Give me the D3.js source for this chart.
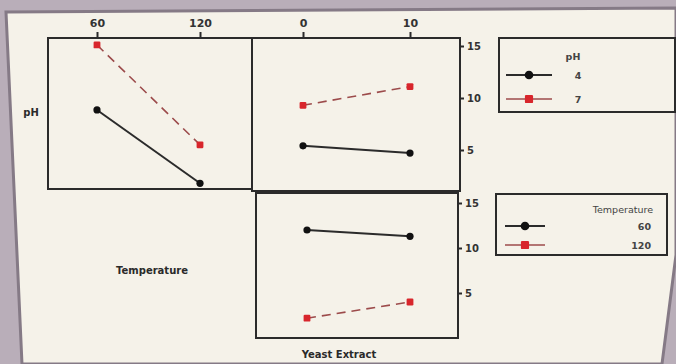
<!DOCTYPE html>
<html>
<head>
<meta charset="utf-8">
<script src="https://cdn.jsdelivr.net/npm/d3@7"></script>
<style>
  body { margin: 0; background: #b9aeb9; }
  svg { display: block; }
  .tick text { font-family: "DejaVu Sans", sans-serif; font-weight: bold; fill: #333; }
</style>
</head>
<body>
<div id="myPlot"></div>
<script>
// interaction plot data
const tempLevels = [60, 120];
const yeastLevels = [0, 10];
const phLevels = ['4', '7'];
const tempNames = ['60', '120'];
const yTicks = [5, 10, 15];

// pH lines vs Temperature
const ph4ByTemp = [8.85, 1.8];
const ph7ByTemp = [15.1, 5.5];
// pH lines vs Yeast Extract
const ph4ByYeast = [5.4, 4.7];
const ph7ByYeast = [9.3, 11.1];
// Temperature lines vs Yeast Extract
const t60ByYeast = [12.0, 11.3];
const t120ByYeast = [2.2, 4.0];

const width = 676, height = 364;
const ink = '#2b2b2b';
const red = '#d8262c';
const dashRed = '#9c4b4b';

const svg = d3.select('#myPlot')
  .append('svg')
    .attr('width', width)
    .attr('height', height);

// photographed sheet
svg.append('polygon')
  .attr('points', '6,12 676,8 676,255 662,364 22,364')
  .attr('fill', '#f5f2e9')
  .attr('stroke', '#857a86')
  .attr('stroke-width', 3);

// panels
const panels = [
  {x0: 48, x1: 252, y0: 38, y1: 189},
  {x0: 252, x1: 460, y0: 38, y1: 191},
  {x0: 256, x1: 458, y0: 193, y1: 338}
];
panels.forEach(p => {
  svg.append('rect')
    .attr('x', p.x0).attr('y', p.y0)
    .attr('width', p.x1 - p.x0).attr('height', p.y1 - p.y0)
    .attr('fill', 'none')
    .attr('stroke', ink)
    .attr('stroke-width', 2);
});

// scales
const xTemp = d3.scaleLinear().domain([60, 120]).range([97, 200]);
const xYeast = d3.scaleLinear().domain([0, 10]).range([303, 410]);
const xYeastB = d3.scaleLinear().domain([0, 10]).range([307, 410]);
const yTop = d3.scaleLinear().domain([5, 15]).range([150, 46]);
const yBot = d3.scaleLinear().domain([5, 15]).range([293, 203]);

// axes
function styleAxis(size) {
  return g => {
    g.select('.domain').remove();
    g.selectAll('.tick line').attr('stroke', ink).attr('stroke-width', 2);
    g.selectAll('.tick text').style('font-size', size + 'px');
  };
}
svg.append('g')
  .attr('transform', 'translate(0,38)')
  .call(d3.axisTop(xTemp).tickValues(tempLevels).tickSize(6).tickPadding(5))
  .call(styleAxis(11));
svg.append('g')
  .attr('transform', 'translate(0,38)')
  .call(d3.axisTop(xYeast).tickValues(yeastLevels).tickSize(6).tickPadding(5))
  .call(styleAxis(11));
svg.append('g')
  .attr('transform', 'translate(460,0)')
  .call(d3.axisRight(yTop).tickValues(yTicks).tickSize(4).tickPadding(3))
  .call(styleAxis(10));
svg.append('g')
  .attr('transform', 'translate(458,0)')
  .call(d3.axisRight(yBot).tickValues(yTicks).tickSize(4).tickPadding(3))
  .call(styleAxis(10));

// series drawing
function drawSeries(xs, vals, x, y, kind) {
  const pts = xs.map((v, i) => [x(v), y(vals[i])]);
  svg.append('path')
    .attr('d', d3.line()(pts))
    .attr('fill', 'none')
    .attr('stroke', kind === 'black' ? ink : dashRed)
    .attr('stroke-width', kind === 'black' ? 2 : 1.6)
    .attr('stroke-dasharray', kind === 'black' ? null : '9,6');
  pts.forEach(p => drawMarker(p[0], p[1], kind, 1));
}
function drawMarker(cx, cy, kind, s) {
  if (kind === 'black') {
    svg.append('circle')
      .attr('cx', cx).attr('cy', cy).attr('r', 3.6 * s)
      .attr('fill', '#111');
  } else {
    const h = 3.4 * s;
    svg.append('rect')
      .attr('x', cx - h).attr('y', cy - h)
      .attr('width', 2 * h).attr('height', 2 * h)
      .attr('rx', 1.2)
      .attr('fill', red);
  }
}

drawSeries(tempLevels, ph4ByTemp, xTemp, yTop, 'black');
drawSeries(tempLevels, ph7ByTemp, xTemp, yTop, 'red');
drawSeries(yeastLevels, ph4ByYeast, xYeast, yTop, 'black');
drawSeries(yeastLevels, ph7ByYeast, xYeast, yTop, 'red');
drawSeries(yeastLevels, t60ByYeast, xYeastB, yBot, 'black');
drawSeries(yeastLevels, t120ByYeast, xYeastB, yBot, 'red');

// factor labels
const labelFont = '"DejaVu Sans", sans-serif';
function label(txt, x, y, size) {
  svg.append('text')
    .attr('x', x).attr('y', y)
    .attr('text-anchor', 'middle')
    .attr('font-family', labelFont)
    .attr('font-weight', 'bold')
    .attr('font-size', size)
    .attr('fill', '#2a2a2a')
    .text(txt);
}
label('pH', 31, 116, 10);
label('Temperature', 152, 274, 10);
label('Yeast Extract', 339, 358, 10);

// legends
function legend(box, title, names, kinds, rows, textX, anchor, lineX) {
  svg.append('rect')
    .attr('x', box.x).attr('y', box.y)
    .attr('width', box.w).attr('height', box.h)
    .attr('fill', 'none')
    .attr('stroke', ink)
    .attr('stroke-width', 2);
  svg.append('text')
    .attr('x', title.x).attr('y', title.y)
    .attr('text-anchor', title.anchor)
    .attr('font-family', labelFont)
    .attr('font-size', 9.5)
    .attr('font-weight', title.bold ? 'bold' : 'normal')
    .attr('fill', '#444')
    .text(title.text);
  names.forEach((n, i) => {
    const y = rows[i];
    const k = kinds[i];
    svg.append('line')
      .attr('x1', lineX[0]).attr('x2', lineX[1])
      .attr('y1', y).attr('y2', y)
      .attr('stroke', k === 'black' ? ink : dashRed)
      .attr('stroke-width', k === 'black' ? 2 : 1.4);
    drawMarker((lineX[0] + lineX[1]) / 2, y, k, 1.2);
    svg.append('text')
      .attr('x', textX).attr('y', y + 4)
      .attr('text-anchor', anchor)
      .attr('font-family', labelFont)
      .attr('font-size', 9.5)
      .attr('font-weight', 'bold')
      .attr('fill', '#444')
      .text(n);
  });
}
legend({x: 499, y: 38, w: 176, h: 74},
  {text: 'pH', x: 573, y: 60, anchor: 'middle', bold: true},
  phLevels, ['black', 'red'], [75, 99], 578, 'middle', [506, 552]);
legend({x: 496, y: 194, w: 171, h: 61},
  {text: 'Temperature', x: 653, y: 213, anchor: 'end', bold: false},
  tempNames, ['black', 'red'], [226, 245], 651, 'end', [505, 545]);
</script>
</body>
</html>
